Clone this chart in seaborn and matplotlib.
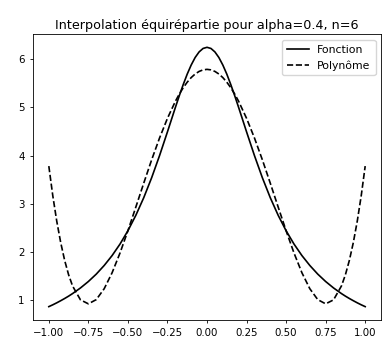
import numpy as np
import pandas as pd
import matplotlib
matplotlib.use("Agg")
import matplotlib.pyplot as plt
import seaborn as sns

# values
x_vals = [-1.000, -0.975, -0.950, -0.925, -0.900, -0.875, -0.850, -0.800, -0.750, -0.700,
          -0.650, -0.600, -0.550, -0.500, -0.450, -0.400, -0.350, -0.300, -0.250, -0.200,
          -0.175, -0.150, -0.125, -0.100, -0.075, -0.050, -0.025, 0.000,
          0.025, 0.050, 0.075, 0.100, 0.125, 0.150, 0.175,
          0.200, 0.250, 0.300, 0.350, 0.400, 0.450, 0.500, 0.550, 0.600, 0.650,
          0.700, 0.750, 0.800, 0.850, 0.875, 0.900, 0.925, 0.950, 0.975, 1.000]
fonction = [0.862, 0.900, 0.941, 0.985, 1.031, 1.080, 1.133, 1.250, 1.384, 1.538,
            1.717, 1.923, 2.162, 2.439, 2.759, 3.125, 3.540, 4.000, 4.494, 5.000,
            5.246, 5.479, 5.694, 5.882, 6.038, 6.154, 6.226, 6.250,
            6.226, 6.154, 6.038, 5.882, 5.694, 5.479, 5.246,
            5.000, 4.494, 4.000, 3.540, 3.125, 2.759, 2.439, 2.162, 1.923, 1.717,
            1.538, 1.384, 1.250, 1.133, 1.080, 1.031, 0.985, 0.941, 0.900, 0.862]
polynome = [3.782, 3.168, 2.640, 2.194, 1.824, 1.525, 1.292, 1.003, 0.920, 1.008,
            1.234, 1.566, 1.976, 2.439, 2.930, 3.427, 3.912, 4.366, 4.775, 5.128,
            5.279, 5.412, 5.526, 5.621, 5.695, 5.749, 5.781, 5.792,
            5.781, 5.749, 5.695, 5.621, 5.526, 5.412, 5.279,
            5.128, 4.775, 4.366, 3.912, 3.427, 2.930, 2.439, 1.976, 1.566, 1.234,
            1.008, 0.920, 1.003, 1.292, 1.525, 1.824, 2.194, 2.640, 3.168, 3.782]
x_ticks = [-1.00, -0.75, -0.50, -0.25, 0.00, 0.25, 0.50, 0.75, 1.00]
y_ticks = [1, 2, 3, 4, 5, 6]

df = pd.DataFrame({"x": x_vals, "Fonction": fonction, "Polynôme": polynome})

fig = plt.figure(figsize=(3.82, 3.40), dpi=100)
ax = fig.add_axes([0.0864, 0.06, 0.911, 0.839])

sns.lineplot(data=df, x="x", y="Fonction", ax=ax, color="black", lw=1.2, label="Fonction")
sns.lineplot(data=df, x="x", y="Polynôme", ax=ax, color="black", lw=1.2,
             linestyle="--", label="Polynôme")

ax.set_xticks(x_ticks)
ax.set_xticklabels([f"{v:.2f}".replace("-", "\u2212") for v in x_ticks])
ax.set_yticks(y_ticks)
ax.tick_params(labelsize=7.4, length=2.5, width=0.6)
for s in ax.spines.values():
    s.set_linewidth(0.6)
ax.set_xlabel("")
ax.set_ylabel("")
ax.set_title("Interpolation équirépartie pour alpha=0.4, n=6", fontsize=9.2, pad=4)
ax.legend(loc="upper right", fontsize=7.8, handlelength=2.0, borderpad=0.45)

fig.savefig("out.png", dpi=100)
